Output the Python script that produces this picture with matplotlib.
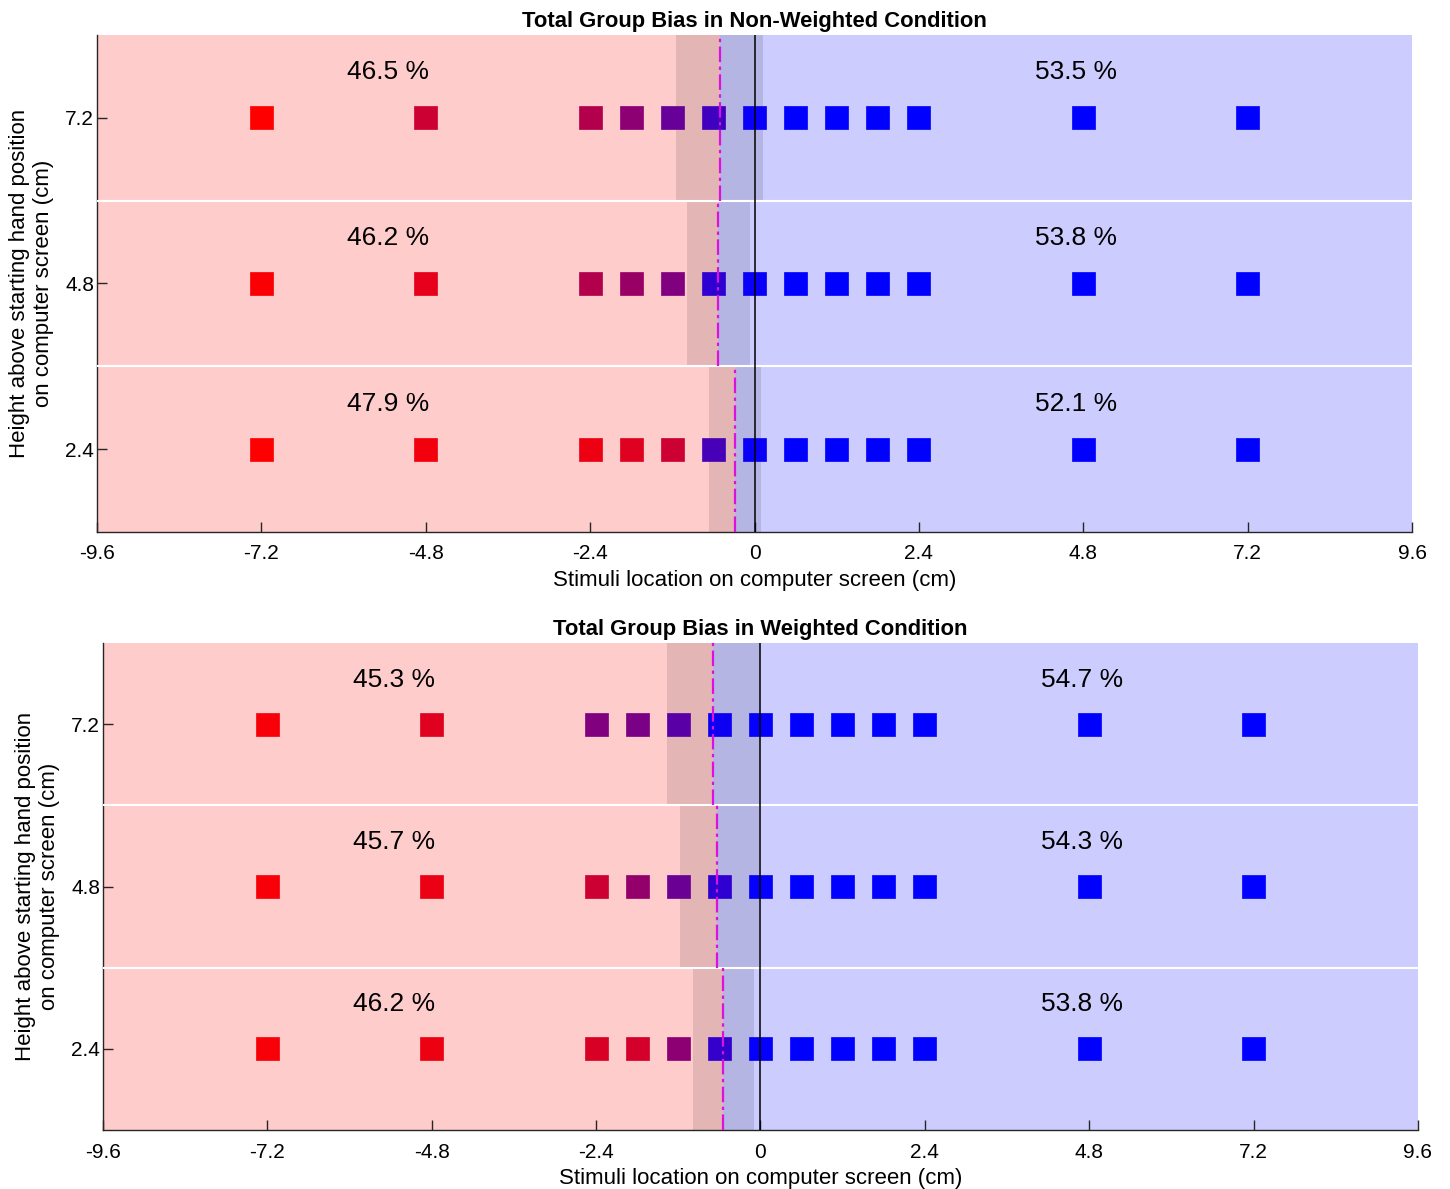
import numpy as np
import matplotlib.pyplot as plt

plt.rcParams["font.family"] = ["Liberation Sans", "DejaVu Sans"]

# ---------- Data ----------
stim_x = [-7.2, -4.8, -2.4, -1.8, -1.2, -0.6, 0, 0.6, 1.2, 1.8, 2.4, 4.8, 7.2]
heights = [7.2, 4.8, 2.4]

# proportion of "right" responses per stimulus (rows follow heights)
prop_nonweighted = [
    [0.0, 0.20, 0.30, 0.45, 0.60, 0.75, 0.97, 1, 1, 1, 1, 1, 1],
    [0.02, 0.10, 0.30, 0.40, 0.50, 0.82, 0.97, 1, 1, 1, 1, 1, 1],
    [0.0, 0.05, 0.07, 0.12, 0.20, 0.72, 0.97, 1, 1, 1, 1, 1, 1],
]
prop_weighted = [
    [0.03, 0.12, 0.50, 0.52, 0.65, 0.95, 0.98, 1, 1, 1, 1, 1, 1],
    [0.03, 0.08, 0.20, 0.42, 0.58, 0.82, 0.98, 1, 1, 1, 1, 1, 1],
    [0.03, 0.07, 0.15, 0.17, 0.45, 0.80, 0.98, 1, 1, 1, 1, 1, 1],
]

# bias (PSE) and its confidence interval per height
bias_nonweighted = [-0.50, -0.53, -0.29]
ci_lo_nonweighted = [-1.14, -0.98, -0.67]
ci_hi_nonweighted = [0.13, -0.07, 0.09]

bias_weighted = [-0.69, -0.63, -0.54]
ci_lo_weighted = [-1.37, -1.18, -0.99]
ci_hi_weighted = [-0.01, -0.02, -0.09]

left_pct_nonweighted = ["46.5 %", "46.2 %", "47.9 %"]
right_pct_nonweighted = ["53.5 %", "53.8 %", "52.1 %"]
left_pct_weighted = ["45.3 %", "45.7 %", "46.2 %"]
right_pct_weighted = ["54.7 %", "54.3 %", "53.8 %"]

titles = ["Total Group Bias in Non-Weighted Condition",
          "Total Group Bias in Weighted Condition"]

xticks = np.arange(-9.6, 9.61, 2.4)
xticklabels = ["-9.6", "-7.2", "-4.8", "-2.4", "0", "2.4", "4.8", "7.2", "9.6"]

PINK = (1.0, 0.8, 0.8)
LBLUE = (0.8, 0.8, 1.0)
AX_COL = "#262626"

fig = plt.figure(figsize=(14.5, 11.89), dpi=100)
ax_top = fig.add_axes([0.0669, 0.5526, 0.9069, 0.418])
ax_bot = fig.add_axes([0.0710, 0.0496, 0.9069, 0.4096])

panels = [
    (ax_top, prop_nonweighted, bias_nonweighted, ci_lo_nonweighted, ci_hi_nonweighted,
     left_pct_nonweighted, right_pct_nonweighted, titles[0]),
    (ax_bot, prop_weighted, bias_weighted, ci_lo_weighted, ci_hi_weighted,
     left_pct_weighted, right_pct_weighted, titles[1]),
]

for ax, props, bias, lo, hi, lpct, rpct, title in panels:
    for i, h in enumerate(heights):
        y0, y1 = h - 1.2, h + 1.2
        ax.fill_betweenx([y0, y1], -9.6, bias[i], color=PINK, lw=0, zorder=1)
        ax.fill_betweenx([y0, y1], bias[i], 9.6, color=LBLUE, lw=0, zorder=1)
        ax.fill_betweenx([y0, y1], lo[i], hi[i], color="black", alpha=0.11, lw=0, zorder=2)
        ax.plot([bias[i], bias[i]], [y0, y1], color="#DD10DD", lw=1.6,
                ls=(0, (7, 2, 1.5, 2)), zorder=5)

        p = np.array(props[i])
        cols = np.column_stack([1 - p, np.zeros_like(p), p])
        ax.scatter(stim_x, [h] * len(stim_x), marker="s", s=16.5 ** 2, c=cols,
                   edgecolors=cols, linewidths=0.5, zorder=4)

        ax.text(-5.35, h + 0.66, lpct[i], ha="center", va="center", fontsize=19, zorder=6)
        ax.text(4.7, h + 0.66, rpct[i], ha="center", va="center", fontsize=19, zorder=6)

    for yb in [6.0, 3.6]:
        ax.axhline(yb, color="white", lw=1.5, zorder=3)
    ax.axvline(0, color="black", lw=1.1, zorder=4)

    ax.set_xlim(-9.6, 9.6)
    ax.set_ylim(1.2, 8.4)
    ax.set_xticks(xticks)
    ax.set_xticklabels(xticklabels)
    ax.set_yticks(heights)
    ax.set_yticklabels(["7.2", "4.8", "2.4"])
    ax.tick_params(direction="in", length=7, width=1, color=AX_COL, labelsize=15)
    ax.tick_params(axis="x", pad=9)
    ax.tick_params(axis="y", pad=2)
    for s in ["top", "right"]:
        ax.spines[s].set_visible(False)
    for s in ["left", "bottom"]:
        ax.spines[s].set_color(AX_COL)
        ax.spines[s].set_linewidth(1)
    ax.set_xlabel("Stimuli location on computer screen (cm)", fontsize=16, labelpad=5)
    ax.set_ylabel("Height above starting hand position\non computer screen (cm)",
                  fontsize=16, labelpad=8)
    ax.set_title(title, fontsize=15.8, fontweight="bold", pad=6)

fig.savefig("out.png", dpi=100)
